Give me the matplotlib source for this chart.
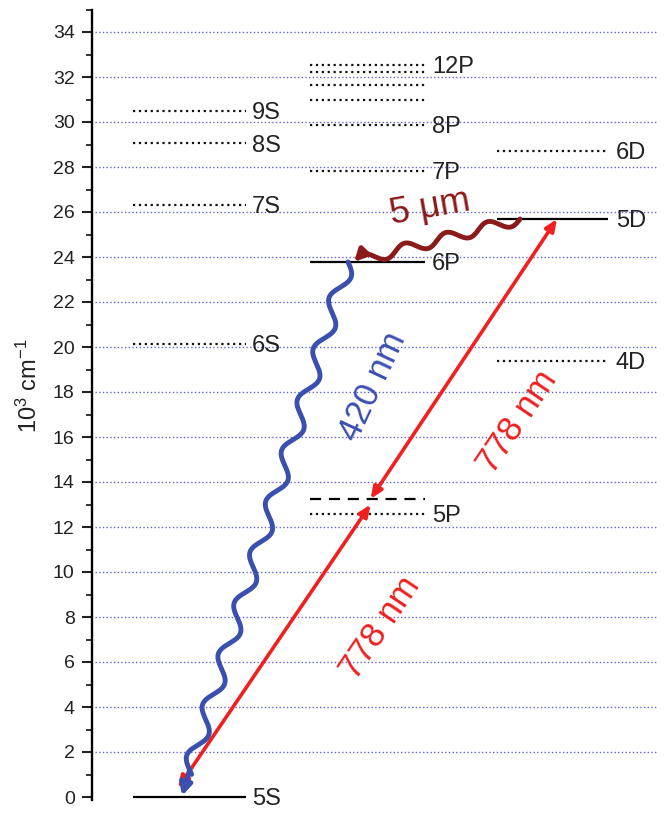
import numpy as np
import matplotlib
matplotlib.use('Agg')
import matplotlib.pyplot as plt

plt.rcParams['font.family'] = ['Liberation Sans', 'DejaVu Sans']
plt.rcParams['mathtext.default'] = 'regular'

# energies in 10^3 cm^-1
s_names = ['5S', '6S', '7S', '8S', '9S']
s_levels = [0.0, 20.13, 26.31, 29.05, 30.50]
p_names = ['5P', '6P', '7P', '8P', '', '', '', '12P']
p_levels = [12.60, 23.78, 27.82, 29.87, 31.00, 31.64, 32.20, 32.53]
d_names = ['4D', '5D', '6D']
d_levels = [19.38, 25.69, 28.71]
solid_levels = ['5S', '6P', '5D']
virtual_level = 13.25
laser_start = 0.4

# column extents (layout, x in pixel-like units)
cols = {'S': (133, 246, 252), 'P': (310, 425, 432), 'D': (497, 608, 616)}

fig = plt.figure(figsize=(6.66, 8.15), dpi=100)
ylo, yhi = -0.15, 35.0
px_per = 22.5
bot = (815 - (797 + 0.15 * px_per)) / 815
top = (815 - (797 - 35 * px_per)) / 815
ax = fig.add_axes([92 / 666, bot, 568 / 666, top - bot])
ax.set_xlim(92, 660)
ax.set_ylim(ylo, yhi)

# grid
ax.hlines(np.arange(2, 35, 2), 95, 657, colors='#6262dc', linestyles=':', lw=1.0, zorder=0)

lab_kw = dict(fontsize=17, color='#222222', va='center', ha='left')
for col, names, levels in [('S', s_names, s_levels), ('P', p_names, p_levels), ('D', d_names, d_levels)]:
    x0, x1, xt = cols[col]
    for n, e in zip(names, levels):
        if n in solid_levels:
            ax.plot([x0, x1], [e, e], color='black', lw=1.6, solid_capstyle='butt', zorder=2)
        else:
            ax.plot([x0, x1], [e, e], color='#111111', lw=1.6, ls=':', zorder=2)
        if n:
            ax.text(xt, e - 0.1, n, **lab_kw)

# virtual level
ax.plot([cols['P'][0], cols['P'][1]], [virtual_level] * 2, color='black', lw=1.6,
        ls=(0, (5, 3.5)), zorder=2)

# two-photon 778 nm arrows
red = '#ee2020'
x0, x1 = 178, 557
e5d = d_levels[1]
xm = x0 + (virtual_level - laser_start) / (e5d - laser_start) * (x1 - x0)
aprops = dict(arrowstyle='<|-|>,head_length=0.7,head_width=0.3', color=red, lw=2.6,
              shrinkA=0, shrinkB=0)
ax.annotate('', xy=(xm, virtual_level - 0.25), xytext=(x0, laser_start), arrowprops=aprops, zorder=4)
ax.annotate('', xy=(x1, e5d), xytext=(xm, virtual_level), arrowprops=aprops, zorder=4)


def wavy(p0, p1, n, amp, color, lw):
    fig.canvas.draw()
    d0 = ax.transData.transform(p0)
    d1 = ax.transData.transform(p1)
    t = np.linspace(0, 1, 600)
    v = d1 - d0
    L = np.hypot(*v)
    perp = np.array([-v[1], v[0]]) / L
    pts = d0[None, :] + t[:, None] * v[None, :] + (amp * np.sin(2 * np.pi * n * t))[:, None] * perp[None, :]
    data = ax.transData.inverted().transform(pts)
    ax.plot(data[:-25, 0], data[:-25, 1], color=color, lw=lw, solid_capstyle='round', zorder=5)
    ax.annotate('', xy=data[-1], xytext=data[-30],
                arrowprops=dict(arrowstyle='-|>,head_length=0.7,head_width=0.35', color=color,
                                lw=lw, shrinkA=0, shrinkB=0), zorder=5)


blue = '#3a4fae'
brown = '#8b1a1a'
wavy((348, p_levels[1]), (182, 0.05), 10.5, 7.5, blue, 3.5)
wavy((520, e5d), (354, p_levels[1]), 4, 5.5, brown, 3.5)

# transition labels
ax.text(380, (797 - 628) / px_per, '778 nm', color=red, fontsize=25, rotation=56,
        ha='center', va='center', rotation_mode='anchor')
ax.text(517, (797 - 422) / px_per, '778 nm', color=red, fontsize=25, rotation=56,
        ha='center', va='center', rotation_mode='anchor')
ax.text(373, (797 - 387) / px_per, '420 nm', color=blue, fontsize=25, rotation=65,
        ha='center', va='center', rotation_mode='anchor')
ax.text(430, (797 - 208) / px_per, '5 μm', color=brown, fontsize=26, rotation=10,
        ha='center', va='center', rotation_mode='anchor')

# axes styling
for s in ['top', 'right', 'bottom']:
    ax.spines[s].set_visible(False)
ax.spines['left'].set_linewidth(1.7)
ax.set_xticks([])
ax.set_yticks(np.arange(0, 35, 2))
ax.set_yticks(np.arange(1, 36, 2), minor=True)
ax.tick_params(axis='y', which='major', direction='out', length=7.5, width=1.5,
               labelsize=14, pad=5, colors='#222222')
ax.tick_params(axis='y', which='minor', direction='out', length=4.5, width=1.3, colors='#222222')
ax.set_ylabel('10$^3$ cm$^{-1}$', fontsize=17, color='#222222')
ax.yaxis.set_label_coords(-0.088, (18.3 - ylo) / (yhi - ylo))

fig.savefig('out.png', dpi=100)
